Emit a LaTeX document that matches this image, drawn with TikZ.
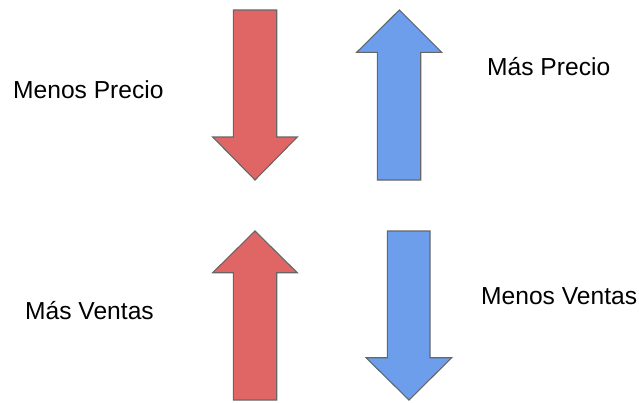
\documentclass[tikz,border=0pt]{standalone}
\usepackage{fontspec}
\setmainfont{Liberation Sans}
\definecolor{redA}{HTML}{E06666}
\definecolor{blueA}{HTML}{6D9EEB}
\definecolor{edgeA}{HTML}{666666}
\begin{document}
\begin{tikzpicture}[x=1pt,y=-1pt,
  redarrow/.style={fill=redA,draw=edgeA,line width=1.1pt,line join=miter},
  bluearrow/.style={fill=blueA,draw=edgeA,line width=1.1pt,line join=miter},
  lbl/.style={anchor=base west,inner sep=0pt,font=\fontsize{24.6}{29}\selectfont}]
\useasboundingbox (0,0) rectangle (639,402);
% red down arrow (top)
\draw[redarrow] (233.3,10) -- (276.7,10) -- (276.7,137) -- (297.3,137) -- (255,180) -- (212.7,137) -- (233.3,137) -- cycle;
% blue up arrow (top)
\draw[bluearrow] (399.3,10) -- (441.7,52.3) -- (420.7,52.3) -- (420.7,180) -- (377.3,180) -- (377.3,52.3) -- (356.7,52.3) -- cycle;
% red up arrow (bottom)
\draw[redarrow] (255,231) -- (297.3,272.7) -- (276.7,272.7) -- (276.7,400) -- (233.3,400) -- (233.3,272.7) -- (212.7,272.7) -- cycle;
% blue down arrow (bottom)
\draw[bluearrow] (387.3,231) -- (430,231) -- (430,357.7) -- (451.7,357.7) -- (409,400) -- (366,357.7) -- (387.3,357.7) -- cycle;
% labels
\node[lbl] (mp) at (13,98.5) {Menos Precio};
\node[lbl] (sp) at (487,75) {Más Precio};
\node[lbl] (sv) at (25,319) {Más Ventas};
\node[lbl] (mv) at (481,304) {Menos Ventas};
\end{tikzpicture}
\end{document}
